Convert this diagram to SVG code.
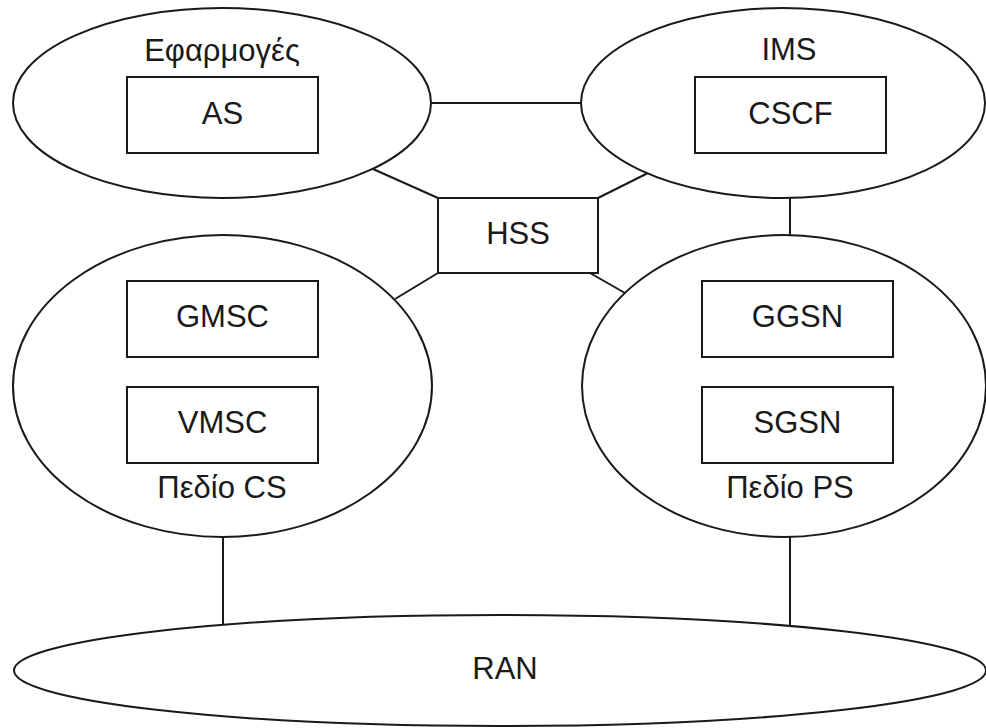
<svg xmlns="http://www.w3.org/2000/svg" width="986" height="728" viewBox="0 0 986 728">
<style>
.sh{fill:#fff;stroke:#1a1a1a;stroke-width:2}
.ln{stroke:#1a1a1a;stroke-width:2;fill:none}
text{font-family:"Liberation Sans",Arial,sans-serif;font-size:31px;fill:#1a1a1a;text-anchor:middle}
</style>
<rect width="986" height="728" fill="#fff"/>
<g id="connectors">
<line class="ln" x1="431" y1="103" x2="581" y2="103"/>
<line class="ln" x1="373" y1="169" x2="438" y2="198"/>
<line class="ln" x1="648" y1="173" x2="598" y2="198"/>
<line class="ln" x1="438" y1="273" x2="395" y2="299"/>
<line class="ln" x1="590" y1="273" x2="625" y2="293"/>
<line class="ln" x1="790" y1="197" x2="790" y2="236"/>
<line class="ln" x1="223" y1="536" x2="223" y2="626"/>
<line class="ln" x1="790" y1="536" x2="790" y2="626"/>
</g>
<g id="apps">
<ellipse class="sh" cx="222" cy="103" rx="209" ry="95"/>
<text x="222" y="61">Εφαρμογές</text>
</g>
<g id="as">
<rect class="sh" x="127" y="77" width="191" height="76"/>
<text x="222.5" y="124">AS</text>
</g>
<g id="ims">
<ellipse class="sh" cx="783" cy="103" rx="202" ry="95"/>
<text x="789" y="60">IMS</text>
</g>
<g id="cscf">
<rect class="sh" x="695" y="77" width="191" height="76"/>
<text x="790.5" y="124">CSCF</text>
</g>
<g id="hss">
<rect class="sh" x="438" y="198" width="160" height="75"/>
<text x="518" y="244">HSS</text>
</g>
<g id="cs">
<ellipse class="sh" cx="222.5" cy="386" rx="209.5" ry="151"/>
<text x="222" y="498">Πεδίο CS</text>
</g>
<g id="gmsc">
<rect class="sh" x="127" y="281" width="191" height="76"/>
<text x="222.5" y="327">GMSC</text>
</g>
<g id="vmsc">
<rect class="sh" x="127" y="387" width="191" height="76"/>
<text x="222.5" y="433">VMSC</text>
</g>
<g id="ps">
<ellipse class="sh" cx="784" cy="386" rx="202" ry="151"/>
<text x="790" y="498">Πεδίο PS</text>
</g>
<g id="ggsn">
<rect class="sh" x="702" y="281" width="191" height="76"/>
<text x="797.5" y="327">GGSN</text>
</g>
<g id="sgsn">
<rect class="sh" x="702" y="387" width="191" height="76"/>
<text x="797.5" y="433">SGSN</text>
</g>
<g id="ran">
<ellipse class="sh" cx="500" cy="670.5" rx="486" ry="55.5"/>
<text x="505" y="679">RAN</text>
</g>
</svg>
